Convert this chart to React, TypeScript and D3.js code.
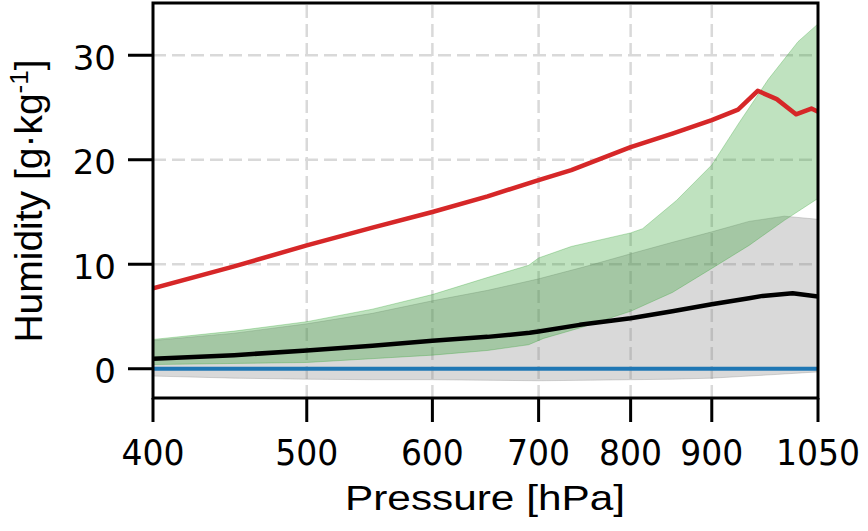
import React from 'react';
import * as d3 from 'd3';

// red curve
const redP = [400, 450, 500, 550, 600, 650, 700, 734, 800, 850, 900, 935, 962, 989, 1017, 1040, 1050];
const redQ = [7.7, 9.8, 11.8, 13.5, 15.0, 16.5, 18.05, 19.0, 21.2, 22.5, 23.8, 24.8, 26.6, 25.8, 24.35, 24.9, 24.6];

// black curve
const blackP = [400, 450, 500, 550, 600, 650, 691, 700, 743, 800, 850, 900, 950, 969, 1012, 1050];
const blackQ = [0.96, 1.3, 1.75, 2.2, 2.67, 3.05, 3.44, 3.57, 4.2, 4.84, 5.5, 6.18, 6.75, 6.97, 7.23, 6.9];

// blue curve
const blueP = [400, 1050];
const blueQ = [0, 0];

// gray band
const grayP = [400, 450, 500, 550, 600, 650, 700, 750, 800, 850, 900, 950, 1000, 1050];
const grayLo = [-0.7, -0.9, -1.0, -1.05, -1.05, -1.1, -1.15, -1.1, -1.05, -1.0, -0.9, -0.7, -0.5, -0.3];
const grayHi = [2.7, 3.4, 4.3, 5.3, 6.5, 7.5, 8.6, 9.8, 11.0, 12.1, 13.1, 14.1, 14.6, 14.3];

// green band
const greenHiP = [400, 450, 500, 550, 600, 649, 690, 700, 734, 800, 814, 855, 900, 936, 977, 1020, 1050];
const greenHi = [2.8, 3.6, 4.5, 5.7, 7.1, 8.7, 9.9, 10.6, 11.7, 13.0, 13.4, 16.1, 19.5, 23.5, 27.7, 31.3, 33.0];
const greenLoP = [400, 500, 600, 650, 690, 705, 743, 800, 850, 900, 950, 1000, 1050];
const greenLo = [0.4, 0.6, 1.3, 1.75, 2.3, 2.9, 3.9, 5.5, 7.3, 9.6, 11.8, 14.2, 16.3];

const xTicks = [400, 500, 600, 700, 800, 900, 1050];
const yTicks = [0, 10, 20, 30];

const W = 868;
const H = 531;
const margin = { top: 3, right: 50, bottom: 133, left: 153 };

export default function App() {
  const x = d3.scaleLog().domain([400, 1050]).range([margin.left, W - margin.right]);
  const y = d3.scaleLinear().domain([-2.8, 35]).range([H - margin.bottom, margin.top]);

  const line = d3.line<[number, number]>().x(d => x(d[0])).y(d => y(d[1]));
  const zip = (p: number[], q: number[]) => p.map((v, i) => [v, q[i]] as [number, number]);
  const band = (pHi: number[], hi: number[], pLo: number[], lo: number[]) =>
    line(zip(pHi, hi).concat(zip(pLo, lo).reverse())) + 'Z';

  const x0 = margin.left;
  const x1 = W - margin.right;
  const y0 = H - margin.bottom;
  const y1 = margin.top;

  return (
    <svg width={W} height={H} style={{ position: 'absolute', left: 0, top: 0 }}>
      <defs>
        <clipPath id="plot">
          <rect x={x0} y={y1} width={x1 - x0} height={y0 - y1} />
        </clipPath>
      </defs>
      <rect width={W} height={H} fill="#fff" />
      {/* grid */}
      <g stroke="#d9d9d9" strokeWidth={2.5} strokeDasharray="13,6">
        {xTicks.slice(1, -1).map(t => (
          <line key={'gx' + t} x1={x(t)} x2={x(t)} y1={y0} y2={y1} />
        ))}
        {yTicks.map(t => (
          <line key={'gy' + t} x1={x0} x2={x1} y1={y(t)} y2={y(t)} />
        ))}
      </g>
      <g clipPath="url(#plot)">
        <path d={band(grayP, grayHi, grayP, grayLo)} fill="#808080" fillOpacity={0.3} stroke="#808080" strokeOpacity={0.3} strokeWidth={1} />
        <path d={band(greenHiP, greenHi, greenLoP, greenLo)} fill="#2ca02c" fillOpacity={0.3} stroke="#2ca02c" strokeOpacity={0.3} strokeWidth={1} />
        <path d={line(zip(blueP, blueQ))!} fill="none" stroke="#1f77b4" strokeWidth={4} />
        <path d={line(zip(blackP, blackQ))!} fill="none" stroke="#000" strokeWidth={4.5} strokeLinejoin="round" />
        <path d={line(zip(redP, redQ))!} fill="none" stroke="#d62728" strokeWidth={4.5} strokeLinejoin="round" />
      </g>
      {/* spines */}
      <rect x={x0} y={y1} width={x1 - x0} height={y0 - y1} fill="none" stroke="#000" strokeWidth={3} />
      {/* x axis */}
      <g fontFamily="DejaVu Sans" fontSize={36} fill="#000">
        {xTicks.map(t => (
          <g key={'xt' + t}>
            <line x1={x(t)} x2={x(t)} y1={y0} y2={y0 + 24} stroke="#000" strokeWidth={3} />
            <text x={x(t)} y={465} textAnchor="middle" textLength={String(t).length * 21} lengthAdjust="spacingAndGlyphs">
              {t}
            </text>
          </g>
        ))}
      </g>
      {/* y axis */}
      <g fontFamily="DejaVu Sans" fontSize={34} fill="#000">
        {yTicks.map(t => (
          <g key={'yt' + t}>
            <line x1={x0 - 25} x2={x0} y1={y(t)} y2={y(t)} stroke="#000" strokeWidth={3} />
            <text x={116} y={y(t) + 14.5} textAnchor="end">
              {t}
            </text>
          </g>
        ))}
      </g>
      <text x={485} y={510} textAnchor="middle" fontFamily="Liberation Sans" fontSize={35} textLength={280} lengthAdjust="spacingAndGlyphs">
        Pressure [hPa]
      </text>
      <text transform="translate(42,201) rotate(-90)" textAnchor="middle" fontFamily="Liberation Sans" fontSize={39}>
        Humidity [g·kg<tspan fontSize={26} dy={-14}>-1</tspan><tspan dy={14}>]</tspan>
      </text>
    </svg>
  );
}
